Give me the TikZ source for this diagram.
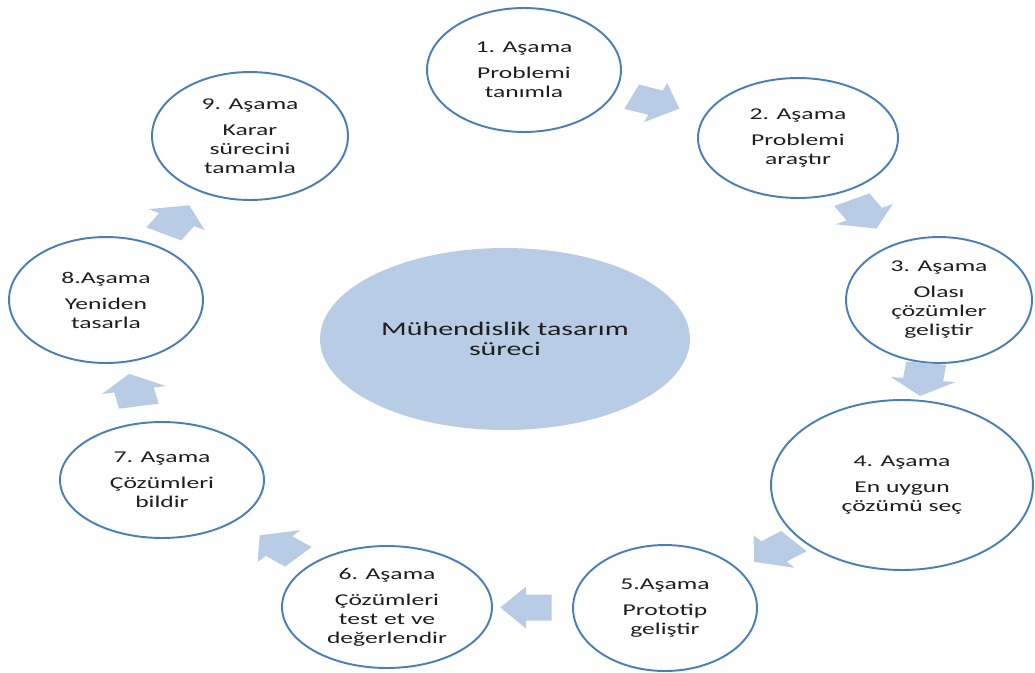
\documentclass[tikz,border=0pt]{standalone}
\usepackage{fontspec}
\setmainfont{Carlito}[FakeStretch=1.55]
\usetikzlibrary{shapes.geometric,calc}

\definecolor{stageline}{RGB}{74,126,187}
\definecolor{flowfill}{RGB}{184,204,230}
\definecolor{labeltext}{RGB}{30,30,30}

\tikzset{
    stage/.style={ellipse, draw=stageline, line width=1.1pt, inner sep=0pt,
        align=center, text=labeltext, font=\fontsize{9.4}{10.8}\selectfont},
    flow/.pic={
        \fill[flowfill, xscale=1.55, rotate=#1]
            (-16.5,-13) -- (0,-13) -- (0,-21) -- (16.5,0) -- (0,21) -- (0,13) -- (-16.5,13) -- cycle;
    }
}

\begin{document}
\begin{tikzpicture}[x=0.02cm, y=-0.02cm]
    \useasboundingbox (0,0) rectangle (1035,673);

    \node[ellipse, fill=flowfill, minimum width=7.4cm, minimum height=3.64cm, inner sep=0pt,
        align=center, text=labeltext, font=\fontsize{11}{11.2}\selectfont] (core) at (505,339)
        {Mühendislik tasarım\\süreci};

    \node[stage, minimum width=3.88cm, minimum height=2.48cm] (s1) at (524,70)
        {1. Aşama\\[4pt]Problemi\\tanımla};
    \node[stage, minimum width=4.0cm, minimum height=2.4cm] (s2) at (798,138)
        {2. Aşama\\[4pt]Problemi\\araştır};
    \node[stage, minimum width=3.72cm, minimum height=2.52cm] (s3) at (939,300)
        {3. Aşama\\[4pt]Olası\\çözümler\\geliştir};
    \node[stage, minimum width=5.24cm, minimum height=3.4cm] (s4) at (902,485)
        {4. Aşama\\[4pt]En uygun\\çözümü seç};
    \node[stage, minimum width=3.68cm, minimum height=2.52cm] (s5) at (665,608)
        {5.Aşama\\[4pt]Prototip\\geliştir};
    \node[stage, minimum width=4.2cm, minimum height=2.44cm] (s6) at (387,607)
        {6. Aşama\\[4pt]Çözümleri\\test et ve\\değerlendir};
    \node[stage, minimum width=4.08cm, minimum height=2.32cm] (s7) at (162,480)
        {7. Aşama\\[4pt]Çözümleri\\bildir};
    \node[stage, minimum width=3.88cm, minimum height=2.52cm] (s8) at (106,300)
        {8.Aşama\\[4pt]Yeniden\\tasarla};
    \node[stage, minimum width=3.92cm, minimum height=2.56cm] (s9) at (250,136)
        {9. Aşama\\[4pt]Karar\\sürecini\\tamamla};

    \foreach \a/\b/\r/\ang in {s1/s2/0.48/-21, s2/s3/0.47/-61, s3/s4/0.43/-97,
        s4/s5/0.54/-141, s5/s6/0.5/180, s6/s7/0.48/139, s7/s8/0.5/101, s8/s9/0.49/60}
        \pic at ($(\a)!\r!(\b)$) {flow=\ang};
\end{tikzpicture}
\end{document}
